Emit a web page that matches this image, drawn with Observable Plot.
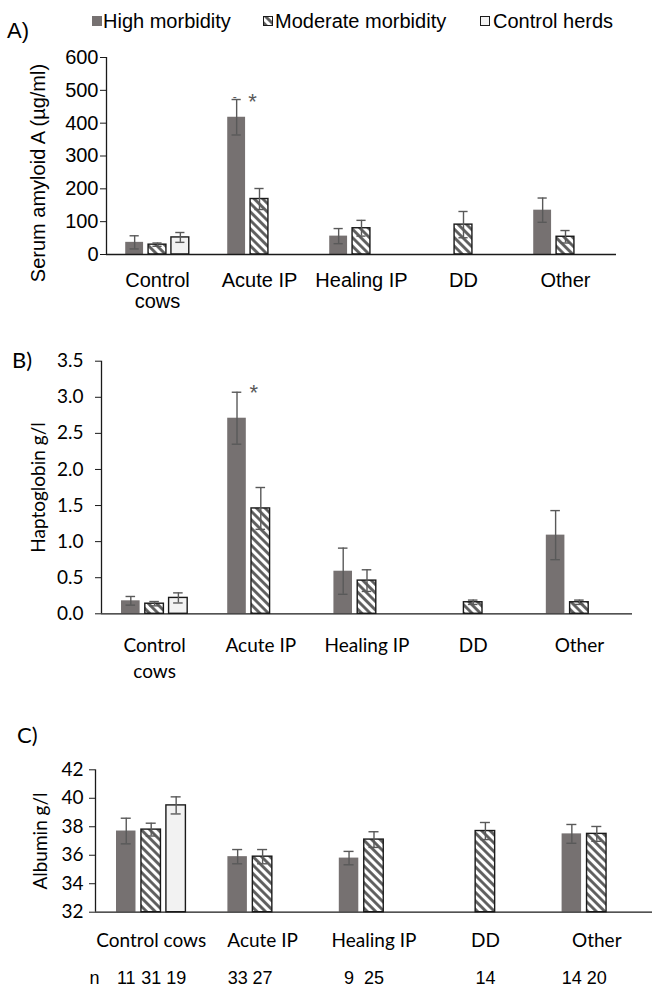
<!DOCTYPE html>
<html><head><meta charset="utf-8">
<script src="https://cdn.jsdelivr.net/npm/d3@7"></script>
<script src="https://cdn.jsdelivr.net/npm/@observablehq/plot@0.6"></script>
<style>
body{margin:0;background:#fff;width:652px;height:992px;position:relative;overflow:hidden;color:#000}
.abs{position:absolute;white-space:nowrap}
.leg{font-family:"Liberation Sans",Arial,sans-serif;font-size:20px;line-height:20px;top:11px}
.sw{position:absolute;width:10px;height:10px;top:16px;box-sizing:border-box}
.plab{font-size:22px;line-height:24px}
</style></head><body>
<svg width="0" height="0" style="position:absolute"><defs>
<pattern id="hatch" patternUnits="userSpaceOnUse" width="6" height="6" patternTransform="rotate(-45)">
<rect width="6" height="6" fill="#fff"/><line x1="1.5" y1="-1" x2="1.5" y2="7" stroke="#595959" stroke-width="2.8"/>
</pattern></defs></svg>

<div class="abs plab" style="left:7px;top:19px;font-family:'Liberation Sans',Arial,sans-serif">A)</div>
<div class="sw" style="left:92px;background:#767171"></div>
<div class="abs leg" style="left:103px">High morbidity</div>
<div class="sw" style="left:263px;border:1.3px solid #1a1a1a"><svg width="8" height="8" style="display:block"><rect width="8" height="8" fill="url(#hatch)"/></svg></div>
<div class="abs leg" style="left:275px">Moderate morbidity</div>
<div class="sw" style="left:480px;border:1.3px solid #1a1a1a;background:#f2f2f2"></div>
<div class="abs leg" style="left:493px">Control herds</div>
<div class="abs plab" style="left:12px;top:348px;font-family:Lato,sans-serif">B)</div>
<div class="abs plab" style="left:17px;top:723px;font-family:Lato,sans-serif">C)</div>
<div id="pa" class="abs" style="left:0;top:40px"></div>
<div id="pb" class="abs" style="left:0;top:330px"></div>
<div id="pc" class="abs" style="left:0;top:750px"></div>

<script>
const categories = ["Control cows","Acute IP","Healing IP","DD","Other"];
const series = ["High morbidity","Moderate morbidity","Control herds"];
const labelsAB = ["Control\ncows","Acute IP","Healing IP","DD","Other"];
const labelsC = ["Control cows","Acute IP","Healing IP","DD","Other"];

// Serum amyloid A (µg/ml): [High, Moderate, Control herds] per category
const saaMean = [[37,30,52],[418,169,null],[56,80,null],[null,91,null],[135,54,null]];
const saaErr  = [[20,5,15],[54,32,null],[23,24,null],[null,40,null],[37,19,null]];
const saaTicks = [0,100,200,300,400,500,600];
const saaStar = 466;

// Haptoglobin g/l
const hpMean = [[0.18,0.14,0.22],[2.71,1.46,null],[0.59,0.46,null],[null,0.16,null],[1.09,0.16,null]];
const hpErr  = [[0.06,0.03,0.07],[0.36,0.29,null],[0.32,0.15,null],[null,0.03,null],[0.34,0.03,null]];
const hpTicks = [0,0.5,1,1.5,2,2.5,3,3.5];
const hpStar = 3.06;

// Albumin g/l
const albMean = [[37.7,37.8,39.5],[35.9,35.9,null],[35.8,37.1,null],[null,37.7,null],[37.5,37.5,null]];
const albErr  = [[0.9,0.45,0.6],[0.5,0.5,null],[0.47,0.55,null],[null,0.6,null],[0.66,0.52,null]];
const albTicks = [32,34,36,38,40,42];

// sample sizes
const nCounts = [[11,31,19],[33,27,null],[9,25,null],[null,14,null],[14,20,null]];

const SLOT = 0.224, BW = 0.175, CAP = 0.045;
const pos = d => d.ci + 0.5 + (d.si - 1) * SLOT;
const ARIAL = "'Liberation Sans', Arial, sans-serif";

function rowsOf(means, errs, ns) {
  const out = [];
  means.forEach((arr, ci) => arr.forEach((v, si) => {
    if (v != null) out.push({ci, si, cat: categories[ci], series: series[si], v, e: errs[ci][si], n: ns ? ns[ci][si] : null});
  }));
  return out;
}

function panel(c) {
  const rows = rowsOf(c.means, c.errs, c.ns);
  const base = c.domain[0];
  const bar = (si, o) => Plot.rectY(rows.filter(d => d.si === si),
    {x1: d => pos(d) - BW/2, x2: d => pos(d) + BW/2, y1: () => base, y2: "v", ...o});
  const marks = [
    bar(0, {fill: "#767171"}),
    bar(1, {fill: "url(#hatch)", stroke: "#1a1a1a", strokeWidth: 1.4}),
    bar(2, {fill: "#f2f2f2", stroke: "#1a1a1a", strokeWidth: 1.4}),
    Plot.ruleX(rows, {x: pos, y1: d => d.v - d.e, y2: d => d.v + d.e, stroke: "#595959", strokeWidth: 1.4}),
    Plot.ruleY(rows, {y: d => d.v + d.e, x1: d => pos(d) - CAP, x2: d => pos(d) + CAP, stroke: "#595959", strokeWidth: 1.4}),
    Plot.ruleY(rows, {y: d => d.v - d.e, x1: d => pos(d) - CAP, x2: d => pos(d) + CAP, stroke: "#595959", strokeWidth: 1.4}),
    Plot.ruleY([base], {stroke: "#1a1a1a", strokeWidth: 1.3}),
    Plot.ruleX([0], {stroke: "#1a1a1a", strokeWidth: 1.3}),
    Plot.axisY(c.ticks, {tickSize: 6, tickPadding: c.tickPadding, tickFormat: c.fmt, label: null, stroke: "#1a1a1a"}),
    Plot.text(categories, {x: (d, i) => i + 0.5, y: () => base, text: (d, i) => c.labels[i],
      lineAnchor: "top", dy: c.labDy, lineHeight: c.lineHeight}),
    Plot.text([c.yLabel], {frameAnchor: "left", text: d => d, rotate: -90, textAnchor: "middle", lineAnchor: "middle",
      dx: c.yLabDx, dy: c.yLabDy})
  ];
  if (c.star != null) {
    marks.push(Plot.text([{ci: 1, si: 1}], {x: pos, y: () => c.star, text: () => "*", dx: -7, fontSize: 22,
      fontFamily: ARIAL, fill: "#595959"}));
  }
  if (c.dash != null) {
    marks.push(Plot.text([{ci: 1, si: 0}], {x: pos, y: () => c.dash, text: () => "-", dx: -2, fontSize: 12, fill: "#595959"}));
  }
  if (c.ns) {
    marks.push(Plot.text(rows, {x: pos, y: () => base, text: d => String(d.n), lineAnchor: "top", dy: c.nDy,
      fontFamily: ARIAL, fontSize: 18}));
    marks.push(Plot.text(["n"], {frameAnchor: "bottom-left", text: d => d, textAnchor: "start", lineAnchor: "top",
      dx: -6, dy: c.nDy, fontFamily: ARIAL, fontSize: 18}));
  }
  return Plot.plot({
    width: 652, height: c.height,
    marginLeft: c.ml, marginRight: c.mr, marginTop: c.mt, marginBottom: c.mb,
    x: {type: "linear", domain: [0, 5], axis: null},
    y: {domain: c.domain, label: null},
    style: {fontFamily: c.font, fontSize: c.fontSize, color: "#000", background: "transparent", overflow: "visible"},
    marks
  });
}

document.getElementById("pa").append(panel({
  means: saaMean, errs: saaErr, domain: [0, 600], ticks: saaTicks, fmt: d => String(d),
  height: 280, ml: 106, mr: 36, mt: 17, mb: 66, tickPadding: 2,
  labels: labelsAB, labDy: 18, lineHeight: 1.05, star: saaStar, dash: 479,
  yLabel: "Serum amyloid A (µg/ml)", yLabDx: -68, yLabDy: 17,
  font: ARIAL, fontSize: "20px"
}));
document.getElementById("pb").append(panel({
  means: hpMean, errs: hpErr, domain: [0, 3.5], ticks: hpTicks, fmt: d => d.toFixed(1),
  height: 350, ml: 101, mr: 20, mt: 30.7, mb: 66.7, tickPadding: 12,
  labels: labelsAB, labDy: 20, lineHeight: 1.37, star: hpStar,
  yLabel: "Haptoglobin g/l", yLabDx: -63, yLabDy: 0,
  font: "Lato, sans-serif", fontSize: "19px"
}));
document.getElementById("pc").append(panel({
  means: albMean, errs: albErr, ns: nCounts, domain: [32, 42], ticks: albTicks, fmt: d => String(d),
  height: 242, ml: 95, mr: 0, mt: 19.3, mb: 80.3, tickPadding: 6,
  labels: labelsC, labDy: 21, lineHeight: 1, nDy: 59,
  yLabel: "Albumin g/l", yLabDx: -55, yLabDy: 0,
  font: "Lato, sans-serif", fontSize: "19px"
}));
</script>
</body></html>
